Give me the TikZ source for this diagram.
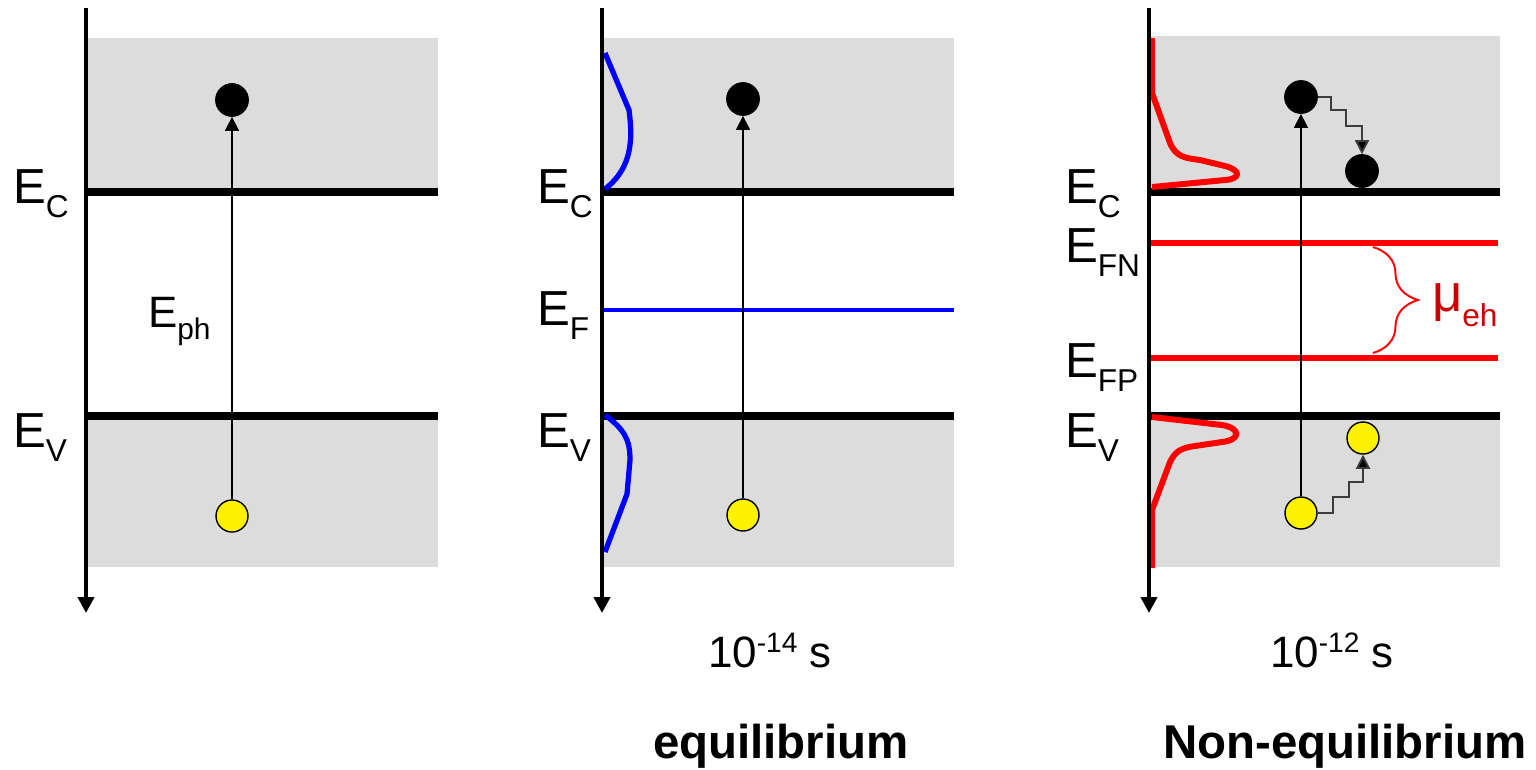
\documentclass[tikz,border=0pt]{standalone}
\usepackage{fontspec}
\setmainfont{Liberation Sans}
\usetikzlibrary{arrows.meta,decorations.pathreplacing}
\definecolor{bandgray}{RGB}{220,220,220}
\definecolor{myblue}{RGB}{0,0,255}
\definecolor{myred}{RGB}{255,0,0}
\definecolor{mudark}{RGB}{204,0,0}
\definecolor{relaxgray}{RGB}{60,60,60}
\newcommand{\EE}[1]{{\fontsize{28pt}{30pt}\selectfont E}\raisebox{-8pt}{\fontsize{18pt}{20pt}\selectfont #1}}
\newcommand{\tenpow}[1]{{\fontsize{25pt}{28pt}\selectfont 10}\raisebox{8pt}{\fontsize{16pt}{18pt}\selectfont #1}{\fontsize{25pt}{28pt}\selectfont\ s}}
\begin{document}
\begin{tikzpicture}[x=0.02cm,y=-0.02cm,
  axis/.style={line width=2.6pt,-{Triangle[length=9pt,width=9pt]}},
  band/.style={fill=bandgray},
  level/.style={line width=4pt},
  elec/.style={circle,fill=black,draw=black,minimum size=0.66cm,inner sep=0pt},
  hole/.style={circle,fill=yellow,draw=black,line width=0.8pt,minimum size=0.64cm,inner sep=0pt},
  exc/.style={line width=0.7pt,-{Triangle[length=8pt,width=8pt]}},
  relax/.style={line width=1.1pt,draw=relaxgray,-{Triangle[length=8pt,width=8pt,fill=black]}},
  bluec/.style={line width=3pt,draw=myblue,line join=round},
  redc/.style={line width=3.4pt,draw=myred,line join=round},
  redlevel/.style={line width=3pt,draw=myred},
  lab/.style={anchor=base west,inner sep=0pt,outer sep=0pt},
]
\useasboundingbox (0,0) rectangle (1536,769);

% ---------- Panel 1 ----------
\fill[band] (86,38) rectangle (438,192);
\fill[band] (86,416) rectangle (438,567);
\draw[level] (86,192) -- (438,192);
\draw[level] (86,416) -- (438,416);
\draw[axis] (86,8) -- (86,613);
\node[elec] (e1) at (232,100) {};
\node[hole] (h1) at (232,516) {};
\draw[exc] (h1.north) -- (e1.south);
\node[lab] (ec1) at (13,203) {\EE{C}};
\node[lab] (ev1) at (13,447) {\EE{V}};
\node[lab] (eph) at (148,327) {{\fontsize{25pt}{28pt}\selectfont E}\raisebox{-7pt}{\fontsize{17pt}{19pt}\selectfont ph}};

% ---------- Panel 2 ----------
\fill[band] (602,38) rectangle (954,192);
\fill[band] (602,416) rectangle (954,567);
\draw[level] (602,192) -- (954,192);
\draw[level] (602,416) -- (954,416);
\draw[line width=2.6pt,draw=myblue] (602,310) -- (954,310);
\draw[bluec] (605,53) -- (629,110) .. controls (633,140) and (632,168) .. (605,189);
\draw[bluec] (605,415) .. controls (625,430) and (630,440) .. (630,460) -- (627,494) -- (605,552);
\draw[axis] (602,8) -- (602,613);
\node[elec] (e2eq) at (743,99) {};
\node[hole] (h2eq) at (743,515) {};
\draw[exc] (h2eq.north) -- (e2eq.south);
\node[lab] (ec2) at (537,203) {\EE{C}};
\node[lab] (ef2) at (537,325) {\EE{F}};
\node[lab] (ev2) at (537,447) {\EE{V}};
\node[lab] (t2) at (708,667) {\tenpow{-14}};
\node[lab] (eqlab) at (653,758) {\fontsize{27pt}{30pt}\selectfont\bfseries equilibrium};

% ---------- Panel 3 ----------
\fill[band] (1149,36) rectangle (1500,192);
\fill[band] (1149,416) rectangle (1500,567);
\draw[level] (1149,192) -- (1500,192);
\draw[level] (1149,416) -- (1500,416);
\draw[redlevel] (1149,243) -- (1498,243);
\draw[redlevel] (1149,358) -- (1498,358);
\draw[redc] (1152,38) -- (1152,93) -- (1170,143) .. controls (1176,157) and (1185,158) .. (1200,160) -- (1225,166) .. controls (1241,170) and (1241,179) .. (1225,180) -- (1152,187);
\draw[redc] (1152,417) -- (1222,425) .. controls (1241,428) and (1241,440) .. (1222,442) -- (1195,446) .. controls (1180,448) and (1175,452) .. (1170,462) -- (1152,510) -- (1152,568);
\draw[axis] (1149,8) -- (1149,613);
\node[elec] (e3a) at (1301,97) {};
\node[elec] (e3b) at (1362,171) {};
\node[hole] (h3a) at (1301,513) {};
\node[hole] (h3b) at (1363,438) {};
\draw[exc] (h3a.north) -- (e3a.south);
\draw[relax] (e3a.east) -- (1331,97) -- (1331,110) -- (1346,110) -- (1346,126) -- (1362,126) -- (e3b.north);
\draw[relax] (h3a.east) -- (1333,513) -- (1333,497) -- (1349,497) -- (1349,482) -- (1363,482) -- (h3b.south);
\draw[myred,line width=1.1pt,decorate,decoration={brace,amplitude=0.9cm}] (1373,247) -- (1373,353);
\node[lab,text=mudark] (mu) at (1432,311) {{\fontsize{30pt}{32pt}\selectfont μ}\raisebox{-9pt}{\fontsize{18pt}{20pt}\selectfont eh}};
\node[lab] (ec3) at (1065,203) {\EE{C}};
\node[lab] (efn3) at (1065,262) {\EE{FN}};
\node[lab] (efp3) at (1065,377) {\EE{FP}};
\node[lab] (ev3) at (1065,447) {\EE{V}};
\node[lab] (t3) at (1270,667) {\tenpow{-12}};
\node[lab] (neqlab) at (1163,758) {\fontsize{27pt}{30pt}\selectfont\bfseries Non-equilibrium};
\end{tikzpicture}
\end{document}
